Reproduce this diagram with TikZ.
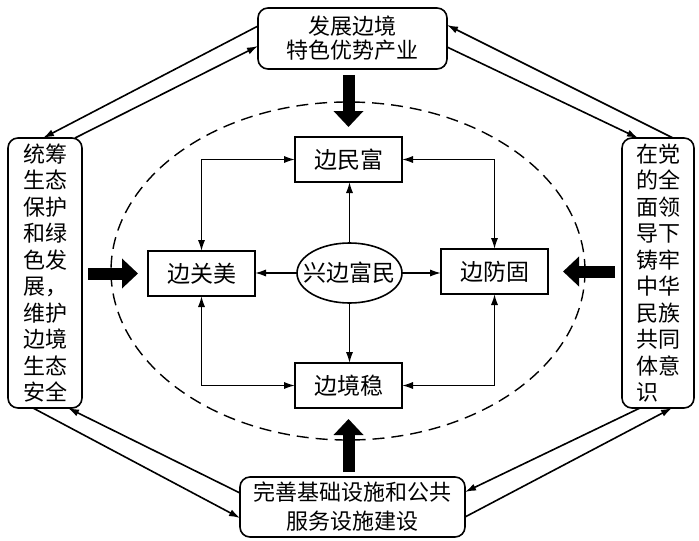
\documentclass[tikz,border=0pt]{standalone}
\usepackage{fontspec}
\newfontfamily\cjk{Noto Sans CJK SC}
\usetikzlibrary{arrows.meta,shapes.geometric}
\begin{document}
\begin{tikzpicture}[x=0.5pt,y=-0.5pt,
  outerbox/.style={draw,rounded corners=5pt,line width=0.8pt,inner sep=0pt,outer sep=0pt,align=center,
    font=\cjk\fontsize{11}{12}\selectfont},
  sidebox/.style={outerbox,align=left,font=\cjk\fontsize{11}{13.25}\selectfont,minimum height=135pt},
  innerbox/.style={draw,line width=1pt,inner sep=0pt,outer sep=0pt,minimum width=53.5pt,minimum height=22.5pt,
    font=\cjk\fontsize{11.5}{13}\selectfont},
  conn/.style={line width=0.8pt,-{Latex[length=5.5pt,width=3.6pt]}},
  biconn/.style={line width=0.8pt,{Latex[length=5.5pt,width=3.6pt]}-{Latex[length=5.5pt,width=3.6pt]}},
  fat/.style={line width=6pt,-{Triangle[length=8pt,width=14.5pt]}}
]
\useasboundingbox (0,0) rectangle (699,540);

% dashed ellipse
\draw[dashed,line width=0.7pt,dash pattern=on 6pt off 3.5pt] (348,271) ellipse [x radius=118.5pt,y radius=84.5pt];

% outer boxes
\node[outerbox,minimum width=94.5pt,minimum height=30.5pt] (top) at (352.5,38.5) {发展边境\\特色优势产业};
\node[outerbox,font=\cjk\fontsize{11}{14.5}\selectfont,minimum width=112.5pt,minimum height=30pt] (bottom) at (352.5,507) {完善基础设施和公共\\服务设施建设};
\node[sidebox,minimum width=37pt] (left) at (45,273) {统筹\\生态\\保护\\和绿\\色发\\展，\\维护\\边境\\生态\\安全};
\node[sidebox,minimum width=36pt] (right) at (658,273) {在党\\的全\\面领\\导下\\铸牢\\中华\\民族\\共同\\体意\\识};

% inner boxes
\node[innerbox] (fu) at (348.5,159.5) {边民富};
\node[innerbox] (mei) at (201.5,273.5) {边关美};
\node[innerbox] (gu) at (494.5,271.5) {边防固};
\node[innerbox] (wen) at (348.5,385.5) {边境稳};
\node[draw,ellipse,line width=0.8pt,inner xsep=-6pt,inner ysep=0pt,outer sep=0pt,minimum width=52.5pt,minimum height=30pt,
  font=\cjk\fontsize{11.5}{13}\selectfont] (c) at (349.5,273) {兴边富民};

% center connectors
\draw[conn] (c.north) -- (c.north |- fu.south);
\draw[conn] (c.south) -- (c.south |- wen.north);
\draw[conn] (c.west) -- (c.west -| mei.east);
\draw[conn] (c.east) -- (c.east -| gu.west);

% corner connectors
\draw[biconn] (fu.west) -| (mei.north);
\draw[biconn] (fu.east) -| (gu.north);
\draw[biconn] (mei.south) |- (wen.west);
\draw[biconn] (gu.south) |- (wen.east);

% thick arrows
\draw[fat,shorten <=3pt,shorten >=5pt] (top.south -| fu.north) -- (fu.north);
\draw[fat,shorten <=2.5pt,shorten >=5.5pt] (bottom.north -| wen.south) -- (wen.south);
\draw[fat,shorten <=3pt,shorten >=5pt] (left.east |- mei.west) -- (mei.west);
\draw[fat,shorten <=3.5pt,shorten >=7.5pt] (right.west |- gu.east) -- (gu.east);

% outer connectors
\draw[conn] ([yshift=-9pt]top.north west) -- ([xshift=-1pt]left.north);
\draw[conn] ([xshift=-3.5pt]left.north east) -- ([yshift=-19pt]top.north west);
\draw[conn] ([xshift=-10.5pt]right.north east) -- ([yshift=-8.5pt]top.north east);
\draw[conn] ([yshift=-19.5pt]top.north east) -- ([xshift=8pt]right.north west);
\draw[conn] ([xshift=12.5pt]left.south west) -- ([yshift=9.5pt]bottom.south west);
\draw[conn] ([yshift=-8pt]bottom.north west) -- ([xshift=-7pt]left.south east);
\draw[conn] ([xshift=9pt]right.south west) -- ([yshift=-7.5pt]bottom.north east);
\draw[conn] ([yshift=10pt]bottom.south east) -- ([xshift=-11pt]right.south east);
\end{tikzpicture}
\end{document}
